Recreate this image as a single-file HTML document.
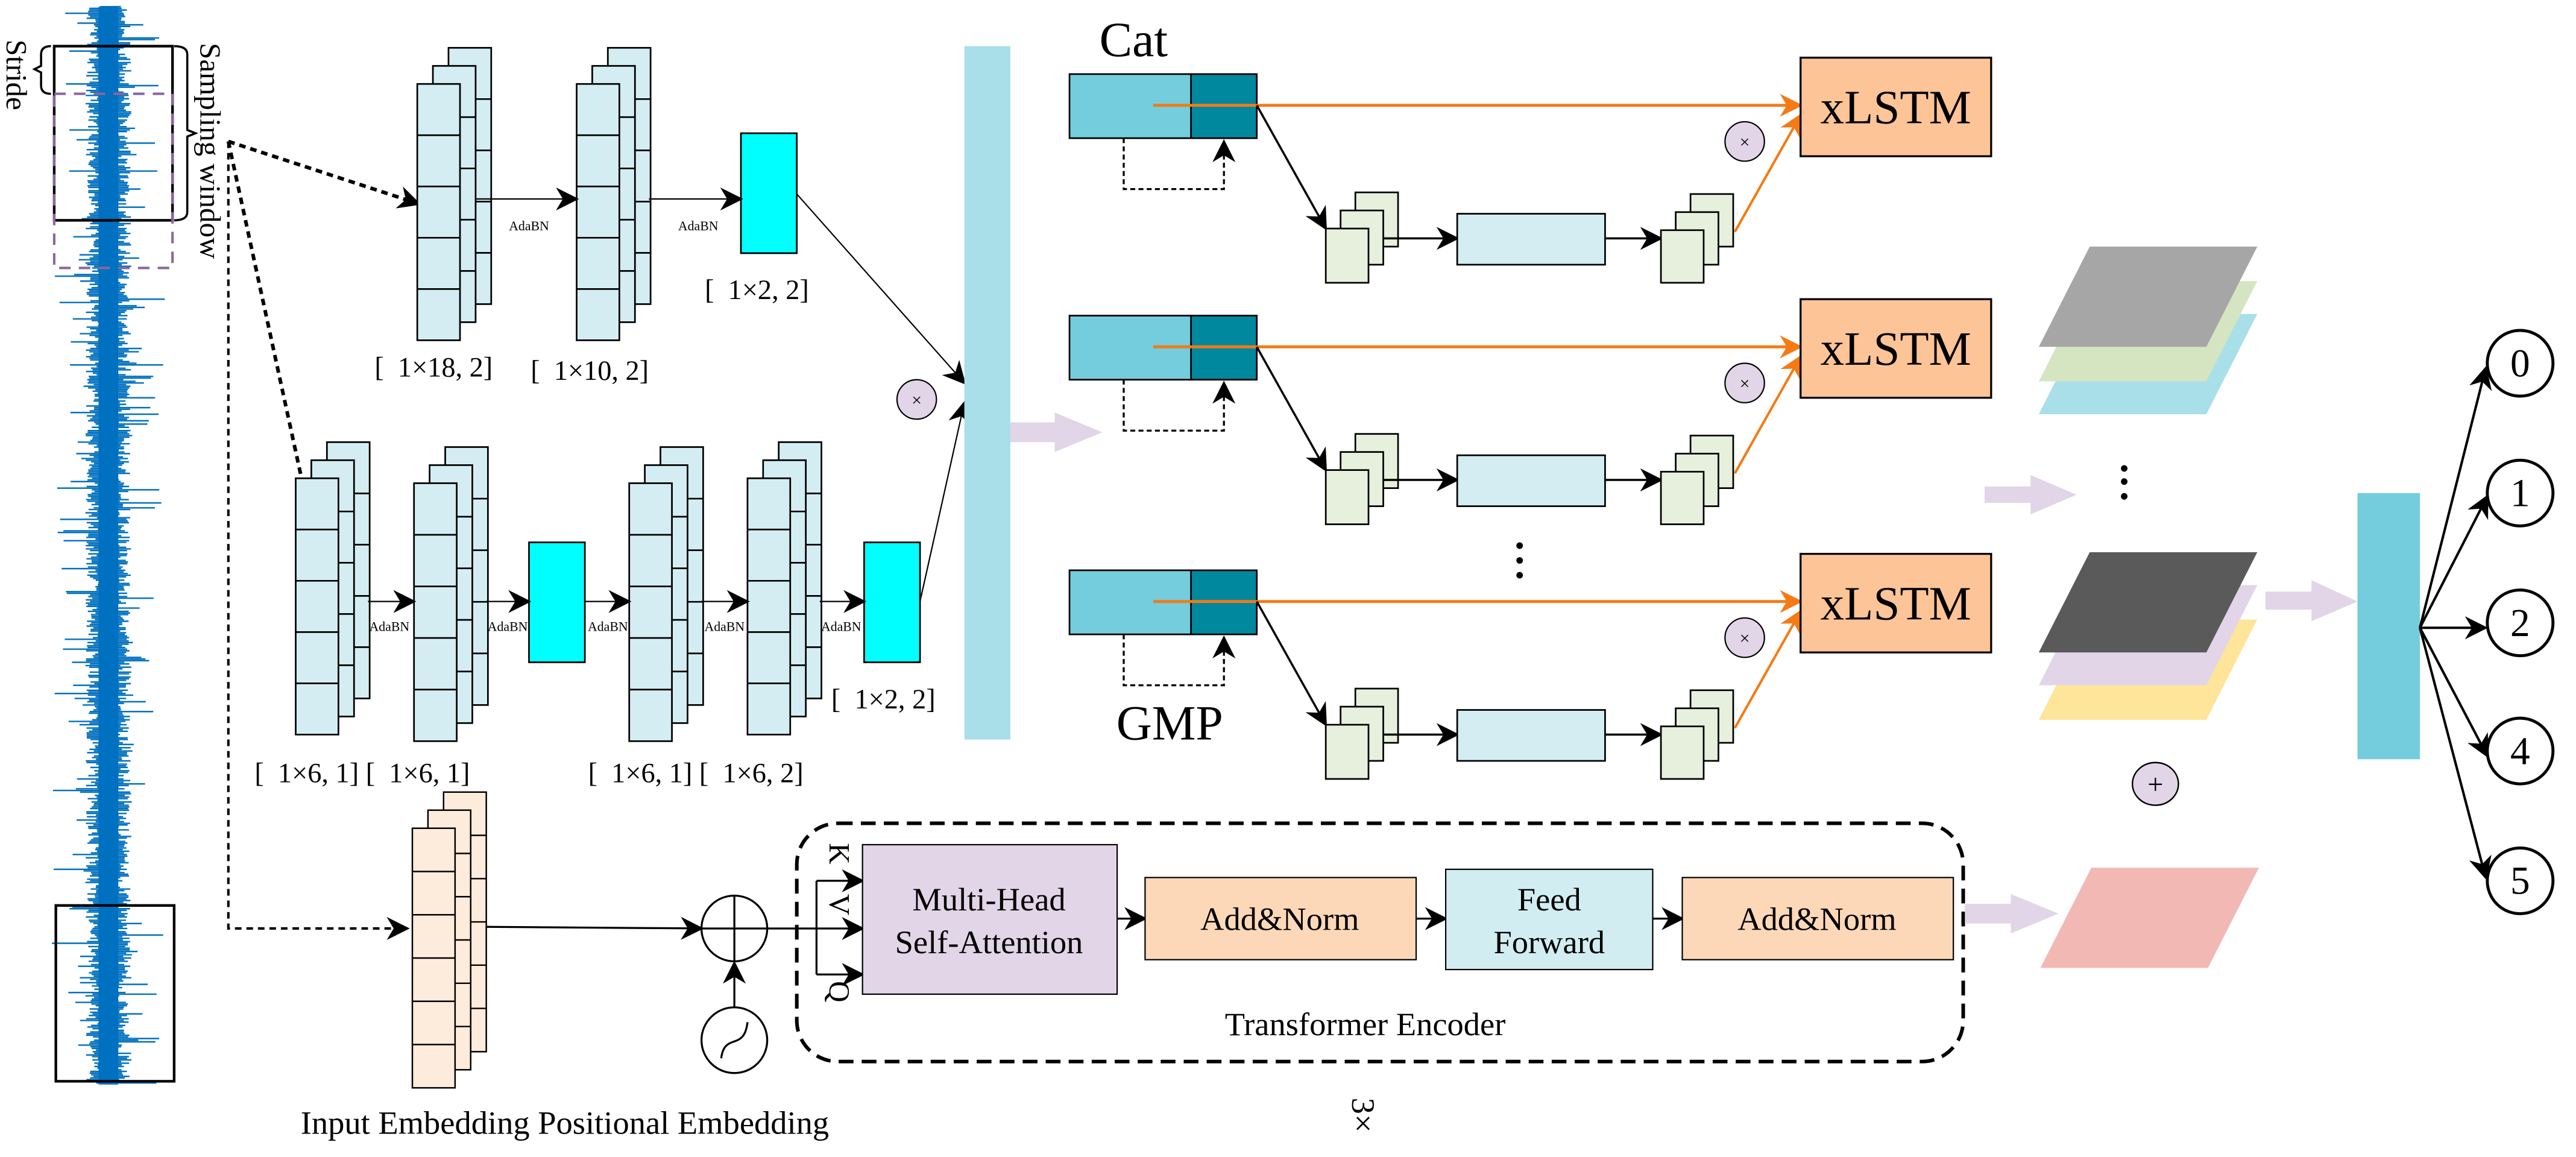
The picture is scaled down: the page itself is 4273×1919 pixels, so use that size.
<!DOCTYPE html>
<html><head><meta charset="utf-8"><style>
html,body{margin:0;padding:0;background:#fff}
svg{display:block;font-family:"Liberation Serif",serif}
text{font-family:"Liberation Serif",serif}
</style></head><body>
<svg id="s" width="4273" height="1919" viewBox="0 0 1568 704" xmlns="http://www.w3.org/2000/svg" font-family="Liberation Serif, serif">
<defs>
<marker id="ahb" viewBox="0 0 10 10" refX="9" refY="5" markerWidth="14" markerHeight="14" orient="auto" markerUnits="userSpaceOnUse"><path d="M0,0 L10,5 L0,10 L3,5 z" fill="#000"/></marker>
<marker id="aho" viewBox="0 0 10 10" refX="9" refY="5" markerWidth="14" markerHeight="14" orient="auto" markerUnits="userSpaceOnUse"><path d="M0,0 L10,5 L0,10 L3,5 z" fill="#f57a14"/></marker>
</defs>
<g id="wave"></g>
<rect x="33" y="28" width="72" height="106" fill="none" stroke="#000" stroke-width="1.6"/>
<rect x="33" y="57" width="72" height="106" fill="none" stroke="#8a66a0" stroke-width="1.5" stroke-dasharray="7,5"/>
<rect x="34" y="551" width="72" height="107" fill="none" stroke="#000" stroke-width="1.6"/>
<path d="M31,28 Q25,28 25,33 L25,40 L21,42 L25,44 L25,52 Q25,57 31,57" fill="none" stroke="#000" stroke-width="1.3"/>
<path d="M106,28 Q114,28 114,33 L114,79 L119,81 L114,83 L114,129 Q114,134 106,134" fill="none" stroke="#000" stroke-width="1.3"/>
<text transform="translate(4,24) rotate(90)" font-size="18">Stride</text>
<text transform="translate(122,26) rotate(90)" font-size="18">Sampling window</text>
<g stroke="#000" stroke-width="2.2" stroke-dasharray="4,3" fill="none">
<line x1="139" y1="86" x2="255" y2="124" marker-end="url(#ahb)"/>
<line x1="139" y1="86" x2="192" y2="330" marker-end="url(#ahb)"/>
</g>
<g stroke="#000" stroke-width="1.5" stroke-dasharray="4,3" fill="none">
<path d="M139,86 L139,565 L248,565" marker-end="url(#ahb)"/>
</g>
<g id="stacks"></g>
<rect x="451" y="81" width="34" height="73" fill="#00ffff" stroke="#000" stroke-width="1"/>
<rect x="322" y="330" width="34" height="73" fill="#00ffff" stroke="#000" stroke-width="1"/>
<rect x="526" y="330" width="34" height="73" fill="#00ffff" stroke="#000" stroke-width="1"/>
<g stroke="#000" stroke-width="0.8" fill="none">
<line x1="290" y1="121" x2="351" y2="121" marker-end="url(#ahb)"/>
<line x1="395" y1="121" x2="451" y2="121" marker-end="url(#ahb)"/>
<line x1="224" y1="366" x2="252" y2="366" marker-end="url(#ahb)"/>
<line x1="296" y1="366" x2="322" y2="366" marker-end="url(#ahb)"/>
<line x1="356" y1="366" x2="383" y2="366" marker-end="url(#ahb)"/>
<line x1="427" y1="366" x2="455" y2="366" marker-end="url(#ahb)"/>
<line x1="499" y1="366" x2="526" y2="366" marker-end="url(#ahb)"/>
<line x1="485" y1="118" x2="587" y2="233" marker-end="url(#ahb)"/>
<line x1="560" y1="366" x2="587" y2="245" marker-end="url(#ahb)"/>
</g>
<g font-size="8" text-anchor="middle">
<text x="322" y="140">AdaBN</text><text x="425" y="140">AdaBN</text>
<text x="237" y="384">AdaBN</text><text x="309" y="384">AdaBN</text><text x="370" y="384">AdaBN</text><text x="441" y="384">AdaBN</text><text x="512" y="384">AdaBN</text>
</g>
<g font-size="17">
<text x="429" y="182">[ &#160;1×2, 2]</text>
<text x="228" y="229">[ &#160;1×18, 2]</text>
<text x="323" y="231">[ &#160;1×10, 2]</text>
<text x="506" y="431">[ &#160;1×2, 2]</text>
<text x="155" y="476">[ &#160;1×6, 1] [ &#160;1×6, 1]</text>
<text x="358" y="476">[ &#160;1×6, 1] [ &#160;1×6, 2]</text>
</g>
<ellipse cx="558" cy="243" rx="12" ry="12" fill="#e1d5e7" stroke="#000" stroke-width="0.8"/>
<text x="558" y="247" font-size="11" text-anchor="middle">×</text>
<rect x="587" y="28" width="28" height="422" fill="#a8dfe9"/>
<path d="M615,257 L642,257 L642,251 L671,263 L642,275 L642,269 L615,269 z" fill="#e1d5e7"/>
<text x="690" y="34" font-size="30" text-anchor="middle">Cat</text>
<text x="712" y="450" font-size="30" text-anchor="middle">GMP</text>
<g id="rows"></g>
<g fill="#000"><circle cx="925" cy="332" r="2"/><circle cx="925" cy="341" r="2"/><circle cx="925" cy="350" r="2"/></g>
<polygon points="1272,191 1374,191 1343,252 1241,252" fill="#a8dfe9"/>
<polygon points="1272,171 1374,171 1343,232 1241,232" fill="#d5e5c2"/>
<polygon points="1272,150 1374,150 1343,211 1241,211" fill="#a6a6a6"/>
<g fill="#000"><circle cx="1293" cy="285" r="2"/><circle cx="1293" cy="293" r="2"/><circle cx="1293" cy="302" r="2"/></g>
<path d="M1208,296 L1236,296 L1236,289 L1264,301 L1236,313 L1236,306 L1208,306 z" fill="#e1d5e7"/>
<polygon points="1272,377 1374,377 1343,438 1241,438" fill="#fee599"/>
<polygon points="1272,356 1374,356 1343,417 1241,417" fill="#e1d5e7"/>
<polygon points="1272,336 1374,336 1343,397 1241,397" fill="#5a5a5a"/>
<ellipse cx="1312" cy="477" rx="14" ry="13" fill="#e1d5e7" stroke="#000" stroke-width="0.9"/>
<text x="1312" y="483" font-size="17" text-anchor="middle">+</text>
<polygon points="1273,528 1375,528 1344,589 1242,589" fill="#f2b9b4"/>
<path d="M1379,360 L1407,360 L1407,353 L1435,366 L1407,378 L1407,371 L1379,371 z" fill="#e1d5e7"/>
<rect x="1435" y="300" width="38" height="162" fill="#73cddd"/>
<g stroke="#000" stroke-width="1.5" fill="none">
<line x1="1473" y1="382" x2="1513" y2="224" marker-end="url(#ahb)"/>
<line x1="1473" y1="382" x2="1514" y2="302" marker-end="url(#ahb)"/>
<line x1="1473" y1="382" x2="1513" y2="382" marker-end="url(#ahb)"/>
<line x1="1473" y1="382" x2="1514" y2="460" marker-end="url(#ahb)"/>
<line x1="1473" y1="382" x2="1513" y2="534" marker-end="url(#ahb)"/>
</g>
<g fill="#fff" stroke="#000" stroke-width="1.8">
<ellipse cx="1534" cy="221" rx="20" ry="20"/><ellipse cx="1534" cy="300" rx="20" ry="20"/><ellipse cx="1534" cy="379" rx="20" ry="20"/><ellipse cx="1534" cy="457" rx="20" ry="20"/><ellipse cx="1534" cy="536" rx="20" ry="20"/>
</g>
<g font-size="24" text-anchor="middle">
<text x="1534" y="229">0</text><text x="1534" y="308">1</text><text x="1534" y="387">2</text><text x="1534" y="465">4</text><text x="1534" y="544">5</text>
</g>
<rect x="485" y="501" width="710" height="145" rx="25" fill="none" stroke="#000" stroke-width="2.2" stroke-dasharray="9,5"/>
<g stroke="#000" stroke-width="1.2" fill="none">
<line x1="296" y1="564" x2="427" y2="565" marker-end="url(#ahb)"/>
<line x1="447" y1="613" x2="447" y2="586" marker-end="url(#ahb)"/>
<line x1="467" y1="565" x2="525" y2="565" marker-end="url(#ahb)"/>
<path d="M497,536 L497,593"/>
<line x1="497" y1="536" x2="525" y2="536" marker-end="url(#ahb)"/>
<line x1="497" y1="593" x2="525" y2="593" marker-end="url(#ahb)"/>
<line x1="680" y1="559" x2="697" y2="559" marker-end="url(#ahb)"/>
<line x1="862" y1="559" x2="880" y2="559" marker-end="url(#ahb)"/>
<line x1="1006" y1="559" x2="1024" y2="559" marker-end="url(#ahb)"/>
</g>
<circle cx="447" cy="565" r="20" fill="none" stroke="#000" stroke-width="1.2"/>
<line x1="427" y1="565" x2="467" y2="565" stroke="#000" stroke-width="1.2"/>
<line x1="447" y1="545" x2="447" y2="585" stroke="#000" stroke-width="1.2"/>
<circle cx="447" cy="633" r="20" fill="none" stroke="#000" stroke-width="1.2"/>
<path d="M439,644 C441,628 453,640 455,622" fill="none" stroke="#000" stroke-width="1.2"/>
<text transform="translate(505,513) rotate(90)" font-size="18">K</text>
<text transform="translate(505,544) rotate(90)" font-size="18">V</text>
<text transform="translate(505,597) rotate(90)" font-size="18">Q</text>
<rect x="525" y="514" width="155" height="91" fill="#e1d5e7" stroke="#000" stroke-width="0.8"/>
<text x="602" y="554" font-size="20" text-anchor="middle">Multi-Head</text>
<text x="602" y="580" font-size="20" text-anchor="middle">Self-Attention</text>
<rect x="697" y="534" width="165" height="50" fill="#fdd8b8" stroke="#000" stroke-width="0.8"/>
<text x="779" y="566" font-size="20" text-anchor="middle">Add&amp;Norm</text>
<rect x="880" y="529" width="126" height="61" fill="#d2edf2" stroke="#000" stroke-width="0.8"/>
<text x="943" y="554" font-size="20" text-anchor="middle">Feed</text>
<text x="943" y="580" font-size="20" text-anchor="middle">Forward</text>
<rect x="1024" y="534" width="165" height="50" fill="#fdd8b8" stroke="#000" stroke-width="0.8"/>
<text x="1106" y="566" font-size="20" text-anchor="middle">Add&amp;Norm</text>
<path d="M1196,550 L1224,550 L1224,544 L1253,556 L1224,568 L1224,562 L1196,562 z" fill="#e1d5e7"/>
<text x="831" y="630" font-size="20" text-anchor="middle">Transformer Encoder</text>
<text x="183" y="690" font-size="20">Input Embedding  Positional Embedding</text>
<text transform="translate(823,668) rotate(90)" font-size="20">3×</text>
</svg>
<script>
(function(){
var NS="http://www.w3.org/2000/svg";
function el(p,n,a){var e=document.createElementNS(NS,n);for(var k in a)e.setAttribute(k,a[k]);p.appendChild(e);return e;}
var seed=7;function r(){seed=(seed*16807)%2147483647;return seed/2147483647;}
var w=document.getElementById('wave');var d="";
for(var y=4;y<660;y+=1.0){var a=5+r()*9;if(r()<0.12)a+=r()*22;var b=5+r()*9;if(r()<0.12)b+=r()*22;d+="M"+(66-a).toFixed(1)+","+y.toFixed(1)+"H"+(66+b).toFixed(1);}
el(w,'path',{d:d,stroke:'#0070c0','stroke-width':'0.9',fill:'none'});
el(w,'rect',{x:60,y:4,width:12,height:656,fill:'#0070c0'});
var s=document.getElementById('stacks');
function stack(x,y,wd,h,fill,n,sw){
 for(var i=2;i>=0;i--){var xx=x+i*9.5,yy=y-i*11;
  el(s,'rect',{x:xx,y:yy,width:wd,height:h,fill:fill,stroke:'#000','stroke-width':sw});
  for(var j=1;j<n;j++){var dy=yy+h*j/n;el(s,'line',{x1:xx+(i?wd-9.5:0),y1:dy,x2:xx+wd,y2:dy,stroke:'#000','stroke-width':sw});}
 }}
stack(254,51,26,156,'#d4edf2',5,1);stack(351,51,26,156,'#d4edf2',5,1);
stack(180,291,26,156,'#d4edf2',5,1);stack(252,294,26,157,'#d4edf2',5,1);
stack(383,294,26,157,'#d4edf2',5,1);stack(455,291,26,156,'#d4edf2',5,1);
stack(251,504,26,158,'#fdebdc',6,0.9);
var R=document.getElementById('rows');
[0,147,302].forEach(function(o){
 el(R,'rect',{x:651,y:45+o,width:74,height:39,fill:'#73cddd',stroke:'#000','stroke-width':1});
 el(R,'rect',{x:725,y:45+o,width:40,height:39,fill:'#00889e',stroke:'#000','stroke-width':1});
 el(R,'path',{d:'M684,'+(84+o)+' L684,'+(115+o)+' L745,'+(115+o)+' L745,'+(86+o),fill:'none',stroke:'#000','stroke-width':1.2,'stroke-dasharray':'3,2','marker-end':'url(#ahb)'});
 el(R,'line',{x1:702,y1:64+o,x2:1096,y2:64+o,stroke:'#f57a14','stroke-width':1.8,'marker-end':'url(#aho)'});
 el(R,'line',{x1:765,y1:64+o,x2:807,y2:139+o,stroke:'#000','stroke-width':1.3,'marker-end':'url(#ahb)'});
 for(var i=2;i>=0;i--){el(R,'rect',{x:807+i*9,y:139+o-i*11,width:26,height:33,fill:'#e6f0dc',stroke:'#000','stroke-width':1});}
 el(R,'line',{x1:842,y1:145+o,x2:887,y2:145+o,stroke:'#000','stroke-width':1.3,'marker-end':'url(#ahb)'});
 el(R,'rect',{x:887,y:130+o,width:90,height:31,fill:'#d4edf2',stroke:'#000','stroke-width':1});
 el(R,'line',{x1:977,y1:145+o,x2:1011,y2:145+o,stroke:'#000','stroke-width':1.3,'marker-end':'url(#ahb)'});
 for(var i=2;i>=0;i--){el(R,'rect',{x:1011+i*9,y:140+o-i*11,width:26,height:32,fill:'#e6f0dc',stroke:'#000','stroke-width':1});}
 el(R,'line',{x1:1056,y1:141+o,x2:1096,y2:70+o,stroke:'#f57a14','stroke-width':1.5,'marker-end':'url(#aho)'});
 el(R,'ellipse',{cx:1062,cy:86+o,rx:12,ry:12,fill:'#e1d5e7',stroke:'#000','stroke-width':0.8});
 var t=el(R,'text',{x:1062,y:90+o,'font-size':11,'text-anchor':'middle'});t.textContent='×';
 el(R,'rect',{x:1096,y:35+o,width:116,height:60,fill:'#fdc498',stroke:'#000','stroke-width':1.2});
 var t2=el(R,'text',{x:1154,y:75+o,'font-size':29,'text-anchor':'middle'});t2.textContent='xLSTM';
});
})();
</script>
</body></html>
